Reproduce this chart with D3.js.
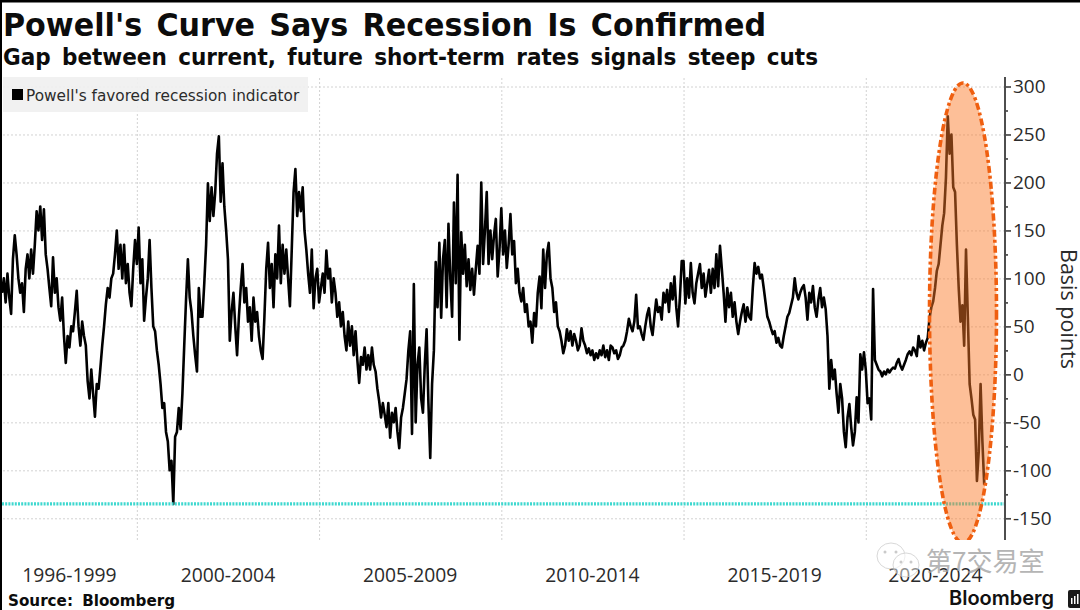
<!DOCTYPE html>
<html>
<head>
<meta charset="utf-8">
<script src="https://cdn.jsdelivr.net/npm/d3@7"></script>
<style>
  html, body { margin: 0; padding: 0; background: #fff; }
  svg { display: block; }
  text { fill: #2b2b2b; font-family: "Open Sans", sans-serif; }
  .title { font-family: "DejaVu Sans", sans-serif; font-weight: 700; fill: #0c0c0c; word-spacing: 4px; }
  .grid line { stroke: #d2d2d2; stroke-width: 1; stroke-dasharray: 2 2; }
  .grid path { display: none; }
  .y-axis path, .y-axis line { stroke: #4a4a4a; stroke-width: 1.7; }
  .y-axis text { font-size: 19px; }
</style>
</head>
<body>
<div id="chart"></div>
<script>
const WIDTH = 1080;
const HEIGHT = 610;

// one value every 0.05 year, one array per x label
const START_YEAR = 1996.3;
const STEP = 0.05;
const END_YEAR = 2023.82;
const era1996 = [85,100,75,105,80,63,120,145,125,100,85,95,65,110,125,100,130,105,135,170,150,175,140,172,125,110,90,71,122,85,100,70,56,80,40,12,40,28,50,45,65,87,50,30,55,40,30,-7,-25,5,-20,-44,-10,-15,7,30,50,73,90,80,100,105,125,150,110,135,100,135,95,115,85,71,110,140];
const era2000 = [115,153,95,120,56,80,100,140,90,50,45,25,10,-10,-35,-30,-60,-70,-100,-90,-135,-65,-60,-35,-57,-20,30,78,120,80,65,40,20,3,90,60,60,95,135,199,160,195,165,190,230,248,180,220,175,150,120,35,65,85,50,20,60,90,115,75,90,55,70,35,80,55,65,40,25,16,60,110,137,90,115,70,125,100,155,95,135,105,130,100,71,130,190,214,165,190,170,195,150,130,105,85,130,69,100,110];
const era2005 = [75,90,105,85,129,100,110,75,100,85,60,75,50,65,40,25,55,30,50,20,45,15,-9,18,10,28,5,20,5,28,10,3,-15,-28,-45,-30,-42,-55,-30,-66,-40,-50,-35,-60,-77,-45,-35,-20,-5,25,45,-62,94,-50,10,28,-25,-40,10,47,-30,-87,-10,25,117,70,137,59,120,140,70,157,100,60,179,95,208,36,148,105,135,92,120,88,110,83,110,134,105,200,115,150,190,115,150,120,145,162,102,130];
const era2010 = [173,125,150,111,135,167,125,139,95,110,85,76,90,65,73,50,55,33,64,50,85,102,69,130,90,125,137,100,90,65,75,50,45,35,22,30,47,35,45,30,42,35,25,30,48,35,30,22,27,20,25,15,22,17,25,20,30,18,25,15,30,28,22,25,16,20,28,30,35,45,58,50,45,55,83,48,50,42,36,50,62,69,50,41,60,78,65,70,57,85,75,88,65,95,78,102,70,50,80,118];
const era2015 = [118,74,100,80,116,85,74,95,105,115,90,105,81,95,109,85,110,90,125,92,134,110,85,55,90,70,85,60,75,55,42,55,65,73,55,70,60,57,90,116,105,112,100,104,90,75,60,55,48,42,45,33,38,30,28,40,50,60,64,72,80,100,85,78,85,90,93,80,57,85,75,92,70,60,78,90,70,80,68,40,-15,15,-5,5,-20,-40,-10,-25,-60,-76,-45,-31,-55,-74,-60,-24,-50,21,5,23];
const era2020 = [5,-30,-25,-47,89,15,10,5,3,-2,3,0,5,2,5,7,6,12,16,9,5,10,15,21,24,20,28,25,19,40,28,35,25,33,38,59,70,76,90,108,115,135,155,168,205,269,230,250,195,190,135,90,55,72,30,130,60,-10,-25,-42,-47,-111,-80,-10,-70,-115];
const gapValues = [...era1996, ...era2000, ...era2005, ...era2010, ...era2015, ...era2020];

const eraLabels = ["1996-1999", "2000-2004", "2005-2009", "2010-2014", "2015-2019", "2020-2024"];
const eraBreaks = [START_YEAR, 2000, 2005, 2010, 2015, 2020, END_YEAR];
const yGrid = [300, 250, 200, 150, 100, 50, 0, -50, -100, -150];
const yMinor = [275, 225, 175, 125, 75, 25, -25, -75, -125];
const thresholdLevel = -135;

const x = d3.scaleLinear().domain([START_YEAR, END_YEAR]).range([2, 1005]);
const y = d3.scaleLinear().domain([300, -150]).range([86.5, 518.3]);
const PLOT_TOP = 77;
const PLOT_BOTTOM = 540;

const svg = d3.select("#chart").append("svg").attr("width", WIDTH).attr("height", HEIGHT);

// frame edges from the screenshot
svg.append("rect").attr("width", 2).attr("height", HEIGHT).attr("fill", "#000");
svg.append("rect").attr("width", WIDTH).attr("height", 2.5).attr("fill", "#000");

svg.append("text").attr("class", "title").attr("x", 3).attr("y", 36).attr("font-size", 32)
  .attr("textLength", 763).attr("lengthAdjust", "spacingAndGlyphs")
  .text("Powell's Curve Says Recession Is Confirmed");
svg.append("text").attr("class", "title").attr("x", 3).attr("y", 65).attr("font-size", 22.5)
  .attr("textLength", 815).attr("lengthAdjust", "spacingAndGlyphs")
  .text("Gap between current, future short-term rates signals steep cuts");

svg.append("g").attr("class", "grid")
  .attr("transform", `translate(${x.range()[1]},0)`)
  .call(d3.axisLeft(y).tickValues(yGrid).tickSize(x.range()[1] - x.range()[0]).tickFormat(""));

svg.append("g").attr("class", "grid")
  .attr("transform", `translate(0,${PLOT_BOTTOM})`)
  .call(d3.axisTop(x).tickValues(eraBreaks.slice(1, -1)).tickSize(PLOT_BOTTOM - PLOT_TOP).tickFormat(""));

// legend box
svg.append("rect").attr("x", 3).attr("y", 77).attr("width", 305).attr("height", 35).attr("fill", "#f0f0f0").attr("fill-opacity", 0.9);
svg.append("rect").attr("x", 12).attr("y", 89).attr("width", 11).attr("height", 11).attr("fill", "#000");
svg.append("text").attr("x", 26).attr("y", 100.5).attr("font-size", 15.3).style("font-family", "'DejaVu Sans'")
  .text("Powell's favored recession indicator");

const line = d3.line().x((d, i) => x(START_YEAR + i * STEP)).y((d) => y(d));
svg.append("path").datum(gapValues)
  .attr("fill", "none").attr("stroke", "#000").attr("stroke-width", 2.6).attr("stroke-linejoin", "round")
  .attr("d", line);

svg.append("line")
  .attr("x1", x.range()[0]).attr("x2", x.range()[1])
  .attr("y1", y(thresholdLevel)).attr("y2", y(thresholdLevel))
  .attr("stroke", "#3ed8cf").attr("stroke-width", 3.4).attr("stroke-dasharray", "2 1.2");

// highlight ellipse, cut off at the bottom of the plot
svg.append("clipPath").attr("id", "plot-clip").append("rect")
  .attr("x", 900).attr("y", 70).attr("width", 120).attr("height", PLOT_BOTTOM - 70);
svg.append("ellipse")
  .attr("clip-path", "url(#plot-clip)")
  .attr("cx", 963).attr("cy", 313).attr("rx", 33.5).attr("ry", 230)
  .attr("fill", "#fa7a28").attr("fill-opacity", 0.48)
  .attr("stroke", "#ef5f10").attr("stroke-width", 3.6).attr("stroke-dasharray", "7 3 3 3");

const yAxis = d3.axisRight(y).tickValues(yGrid).tickSize(6).tickPadding(2).tickFormat((d) => d < 0 ? `-${Math.abs(d)}` : d);
svg.append("g").attr("class", "y-axis").attr("transform", `translate(${x.range()[1]},0)`).call(yAxis);
svg.append("g").attr("class", "y-axis").attr("transform", `translate(${x.range()[1]},0)`)
  .call(d3.axisRight(y).tickValues(yMinor).tickSize(3).tickFormat(""))
  .select("path").attr("d", `M0,${PLOT_TOP}V${PLOT_BOTTOM}`);
svg.select(".y-axis path").attr("d", `M0,${PLOT_TOP}V${PLOT_BOTTOM}`);

svg.append("text")
  .attr("transform", "translate(1061,309) rotate(90)")
  .attr("text-anchor", "middle").attr("font-size", 21.5).text("Basis points");

svg.append("g").selectAll("text").data(eraLabels).join("text")
  .attr("x", (d, i) => x((eraBreaks[i] + eraBreaks[i + 1]) / 2))
  .attr("y", 582).attr("text-anchor", "middle").attr("font-size", 19.3).text((d) => d);

svg.append("text").attr("class", "title").attr("x", 8).attr("y", 606).attr("font-size", 15.5)
  .attr("textLength", 167).attr("lengthAdjust", "spacingAndGlyphs").text("Source: Bloomberg");
svg.append("text").attr("x", 949).attr("y", 605).style("font-family", "Inter, sans-serif")
  .attr("font-size", 20).attr("font-weight", 600).style("fill", "#111").text("Bloomberg");

// clipped Bloomberg mark at the edge
svg.append("rect").attr("x", 1068).attr("y", 590).attr("width", 14).attr("height", 18).attr("rx", 2).attr("fill", "#1a1a1a");
svg.append("g").selectAll("rect").data([1071, 1074, 1077]).join("rect")
  .attr("x", (d) => d).attr("y", (d, i) => 598 - i * 2).attr("width", 1.5).attr("height", (d, i) => 6 + i * 2).attr("fill", "#fff");

// watermark over the bottom right corner
const mark = svg.append("g").attr("opacity", 0.8);
mark.append("ellipse").attr("cx", 891).attr("cy", 556).attr("rx", 14).attr("ry", 13).attr("fill", "#fff").attr("fill-opacity", 0.6).attr("stroke", "#d0d0d0");
mark.append("ellipse").attr("cx", 906).attr("cy", 565).attr("rx", 13).attr("ry", 12).attr("fill", "#fff").attr("fill-opacity", 0.6).attr("stroke", "#d0d0d0");
mark.selectAll("circle").data([[885, 552], [896, 552], [901, 562], [911, 562]]).join("circle")
  .attr("cx", (d) => d[0]).attr("cy", (d) => d[1]).attr("r", 1.5).attr("fill", "#bdbdbd");
mark.append("text").attr("x", 926).attr("y", 571).style("font-family", "'Noto Sans CJK SC'")
  .attr("font-size", 26).style("fill", "#a3a3a3").text("第7交易室");
</script>
</body>
</html>
